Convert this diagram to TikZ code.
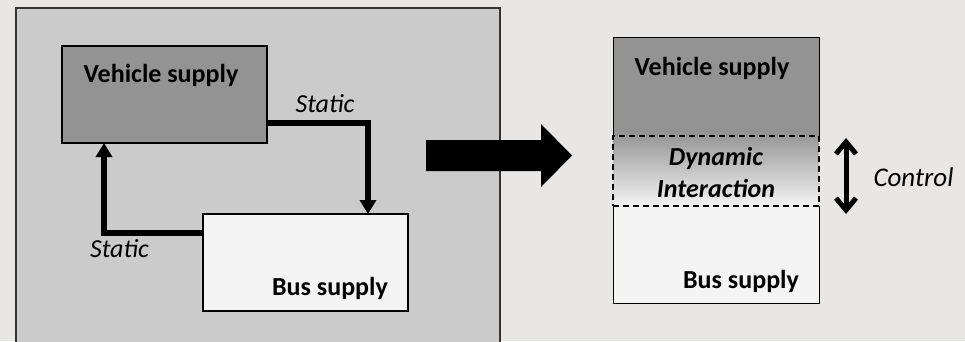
\documentclass[tikz,border=0pt]{standalone}
\usepackage{fontspec}
\setmainfont{Carlito}
\usetikzlibrary{arrows.meta}

\definecolor{bgcol}{HTML}{E8E7E5}
\definecolor{panelcol}{HTML}{CBCBCB}
\definecolor{vehcol}{HTML}{939393}
\definecolor{buscol}{HTML}{F4F4F4}

\begin{document}
\begin{tikzpicture}[x=1pt, y=-1pt,
    blk/.style={draw=black, line width=1.8pt, inner sep=0pt, outer sep=0pt},
    lyr/.style={draw=black, line width=0.8pt, inner sep=0pt, outer sep=0pt, minimum width=206pt},
    boxtext/.style={font=\fontsize{26}{30}\selectfont\bfseries, anchor=base, inner sep=0pt},
    tagtext/.style={font=\fontsize{26}{30}\selectfont\itshape, anchor=base, inner sep=0pt},
    flow/.style={line width=5.5pt, -{Triangle[width=16pt,length=14pt]}},
    ctrl/.style={line width=5pt, {Straight Barb[width=20pt,length=12pt]}-{Straight Barb[width=20pt,length=12pt]}}]
        \def\w{205}
        \def\h{97}

        \useasboundingbox (0,0) rectangle (965,341);
        \fill[bgcol] (0,0) rectangle (965,341);

        % static coupling panel
        \draw[fill=panelcol, draw=black!80, line width=1.5pt] (16,8) rectangle (500,346);

        \node[blk, fill=vehcol, minimum width=\w pt, minimum height=\h pt] (veh) at (164.5,94.5) {};
        \node[blk, fill=buscol, minimum width=\w pt, minimum height=\h pt] (bus) at (305.5,262.5) {};
        \node[boxtext] (vehtxt) at (161,82) {Vehicle supply};
        \node[boxtext] (bustxt) at (330,295) {Bus supply};

        \draw[flow] ([yshift=-28.5pt]veh.east) -| ([xshift=62.5pt]bus.north);
        \draw[flow] ([yshift=29.5pt]bus.west) -| ([xshift=-60.5pt]veh.south);
        \node[tagtext] (st1) at (325,112) {Static};
        \node[tagtext] (st2) at (119.5,257) {Static};

        % transition arrow
        \fill[black] (426,140) -- (541,140) -- (541,124) -- (572,155.5)
            -- (541,187) -- (541,171) -- (426,171) -- cycle;

        % dynamic coupling stack
        \node[lyr, fill=vehcol, minimum height=99pt] (vtop) at (716,86.5) {};
        \node[lyr, fill=buscol, minimum height=97pt] (bbot) at (716,254.5) {};
        \node[lyr, dashed, dash pattern=on 6pt off 4pt, line width=1.3pt, top color=vehcol!95!white,
              bottom color=buscol, minimum height=70pt] (dyn) at (716,171) {};
        \node[boxtext] (vtxt) at (712,75) {Vehicle supply};
        \node[boxtext] (btxt) at (741,288) {Bus supply};
        \node[boxtext, font=\fontsize{26}{30}\selectfont\bfseries\itshape] (dtxt1) at (716,165) {Dynamic};
        \node[boxtext, font=\fontsize{26}{30}\selectfont\bfseries\itshape] (dtxt2) at (716,197) {Interaction};

        \coordinate (up) at (846,138);
        \coordinate (dn) at (846,214);
        \draw[ctrl] (up) -- (dn);
        \node[tagtext, font=\fontsize{27}{30}\selectfont\itshape] (ctl) at (913.5,186) {Control};
    \end{tikzpicture}
\end{document}
